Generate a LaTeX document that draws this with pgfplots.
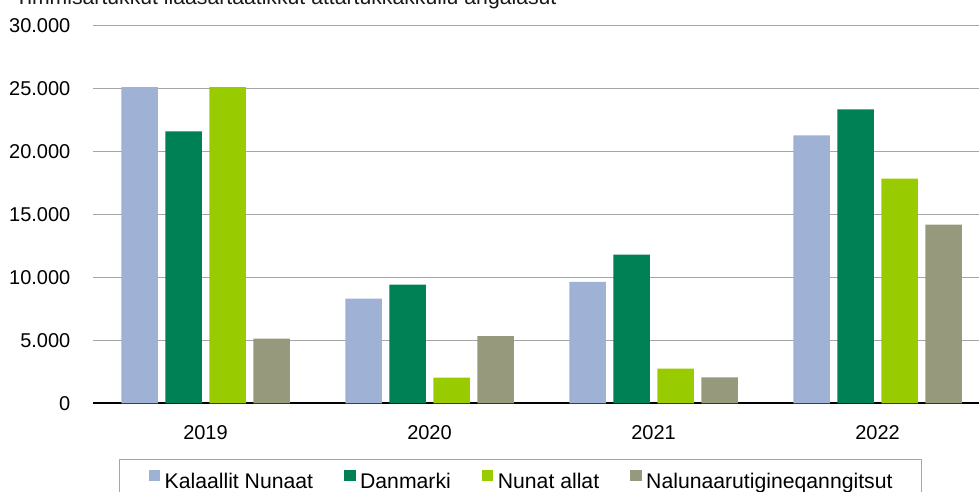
\documentclass[border=0pt]{standalone}
\usepackage{fontspec}
\setmainfont{Liberation Sans}
\usepackage{pgfplots}
\pgfplotsset{compat=1.18}
\definecolor{cKal}{RGB}{159,177,213}
\definecolor{cDan}{RGB}{0,128,85}
\definecolor{cNun}{RGB}{153,204,0}
\definecolor{cNal}{RGB}{151,153,125}
\definecolor{cGrid}{RGB}{166,166,166}
\newcommand{\fs}{\fontsize{20}{24}\selectfont}
\newcommand{\fl}{\fontsize{21.2}{25}\selectfont}
\begin{document}
\begin{tikzpicture}
\begin{axis}[
  at={(0,0)}, anchor=south west,
  scale only axis, width=885.5pt, height=378pt,
  xmin=-0.5, xmax=3.4531, ymin=0, ymax=30000,
  ybar=7.5pt, bar width=36.5pt,
  axis lines=left,
  axis line style={-},
  y axis line style={draw=none},
  x axis line style={black, line width=2pt},
  tick style={draw=none},
  scaled y ticks=false,
  xtick={0,1,2,3}, xticklabels={2019,2020,2021,2022},
  ytick={0,5000,10000,15000,20000,25000,30000},
  yticklabels={0,5.000,10.000,15.000,20.000,25.000,30.000},
  yticklabel style={anchor=east, inner sep=0pt, xshift=-20.8pt},
  xticklabel style={anchor=north, inner sep=0pt, yshift=-19.4pt},
  every tick label/.append style={font=\fs, text=black},
  ymajorgrids, grid style={draw=cGrid, line width=1.3pt},
  legend columns=4,
  legend style={at={(axis description cs:0.0288,-0.1474)}, anchor=north west,
    draw=cGrid, line width=1.3pt, font=\fl,
    inner xsep=29pt, inner ysep=10pt,
    nodes={inner sep=0pt},
    /tikz/every odd column/.append style={column sep=4.5pt},
    /tikz/every even column/.append style={column sep=31pt},
    cells={anchor=west}},
  legend image code/.code={\fill[#1] (0pt,0pt) rectangle (11.5pt,11.5pt);},
]
\addplot[fill=cKal, draw=none] coordinates {(0,25100) (1,8310) (2,9630) (3,21270)};
\addplot[fill=cDan, draw=none] coordinates {(0,21590) (1,9420) (2,11800) (3,23330)};
\addplot[fill=cNun, draw=none] coordinates {(0,25100) (1,2040) (2,2750) (3,17830)};
\addplot[fill=cNal, draw=none] coordinates {(0,5140) (1,5340) (2,2060) (3,14180)};
\legend{Kalaallit Nunaat, Danmarki, Nunat allat, Nalunaarutigineqanngitsut}
\end{axis}
\node[anchor=base west, inner sep=0pt, font=\fl, text=black!90] at (-78.5pt,398.8pt) {Timmisartukkut ilaasartaatikkut attartukkakkullu angalasut};
\pgfresetboundingbox
\useasboundingbox (-93.5pt,-87.7pt) rectangle (885.5pt,403.3pt);
\end{tikzpicture}
\end{document}
